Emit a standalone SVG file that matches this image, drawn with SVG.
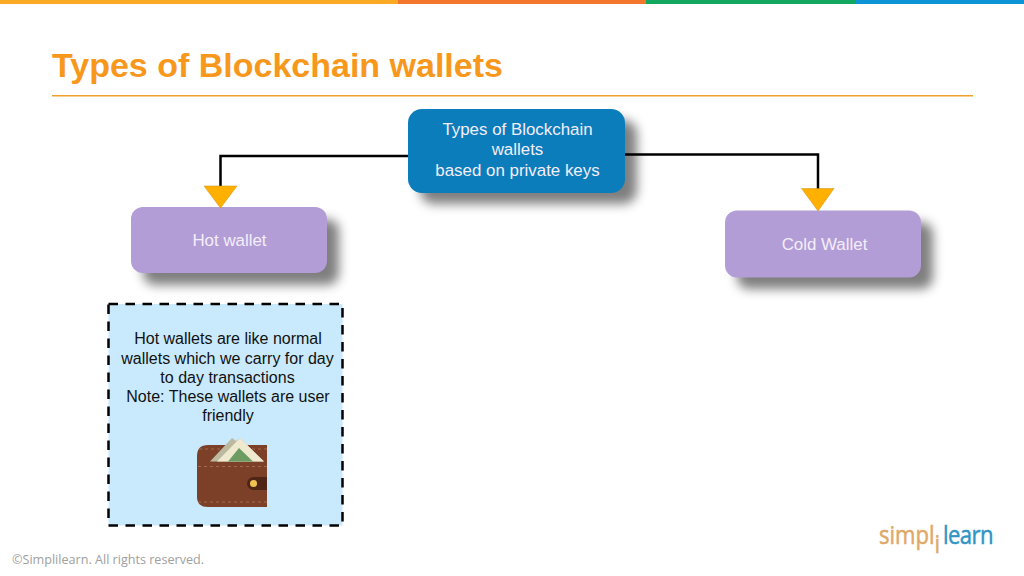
<svg xmlns="http://www.w3.org/2000/svg" width="1024" height="576" viewBox="0 0 1024 576">
<style>
text{font-family:"Liberation Sans",Arial,sans-serif}
.w{fill:#f4eefa;font-size:16.900px;text-anchor:middle}
.k{fill:#111;font-size:16px;text-anchor:middle}
.conn{fill:none;stroke:#000;stroke-width:2.5}
.tip{fill:#ffb000;stroke:#c98f10;stroke-width:.5}
.sh{fill:#000;opacity:.5;filter:url(#blur)}
.st{fill:none;stroke:#a26a4c;stroke-width:1.2;stroke-dasharray:3 3}
</style>
<defs><filter id="blur" x="-20%" y="-30%" width="140%" height="160%"><feGaussianBlur stdDeviation="5.500"/></filter></defs>
<rect width="1024" height="576" fill="#fff"/>
<g id="top-bar">
<rect x="0" y="0" width="398" height="4" fill="#fbaa26"/>
<rect x="398" y="0" width="248" height="4" fill="#f4762a"/>
<rect x="646" y="0" width="210" height="4" fill="#12a860"/>
<rect x="856" y="0" width="168" height="4" fill="#0d94d6"/>
</g>
<text id="title" x="52" y="77" font-size="34" font-weight="700" fill="#f7981d">Types of Blockchain wallets</text>
<rect id="title-rule" x="52" y="95" width="921" height="1.500" fill="#f2a02c"/>
<g id="connectors">
<path class="conn" d="M408 156H220.500V187"/>
<path class="conn" d="M625 154.500H818V189"/>
</g>
<g id="root">
<rect class="sh" x="420" y="120" width="217" height="84" rx="14"/>
<rect x="408" y="109" width="217" height="84" rx="14" fill="#0b7dba"/>
<text class="w" x="517.500" y="135">Types of Blockchain</text>
<text class="w" x="517.500" y="155">wallets</text>
<text class="w" x="517.500" y="176">based on private keys</text>
</g>
<g id="hot-wallet">
<rect class="sh" x="143" y="219" width="196" height="66" rx="12"/>
<rect x="131" y="207" width="196" height="66" rx="12" fill="#b29dd6"/>
<text class="w" x="229.500" y="245.500">Hot wallet</text>
<path class="tip" d="M204 186H237L220.500 208Z"/>
</g>
<g id="cold-wallet">
<rect class="sh" x="737" y="222" width="196" height="67" rx="12"/>
<rect x="725" y="210.500" width="196" height="67" rx="12" fill="#b29dd6"/>
<text class="w" x="824.500" y="249.500">Cold Wallet</text>
<path class="tip" d="M801.500 188.500H834L818 211Z"/>
</g>
<g id="hot-note">
<rect x="108.500" y="304" width="234" height="221.500" fill="#c9eafd" stroke="#000" stroke-width="2.500" stroke-dasharray="9.500 7.500"/>
<text class="k" x="228" y="344">Hot wallets are like normal</text>
<text class="k" x="227.500" y="363.500">wallets which we carry for day</text>
<text class="k" x="227.500" y="383">to day transactions</text>
<text class="k" x="228" y="402">Note: These wallets are user</text>
<text class="k" x="228" y="421">friendly</text>
</g>
<g id="wallet-icon">
<path d="M197 507V456Q197 445 208 445H267V507H208Q197 507 197 497Z" fill="#7c4028"/>
<path d="M210 461.500L232 438L236 441L240 438L264 461.500Z" fill="#bdb9a0"/>
<path d="M217 461.500L240 438L264 461.500Z" fill="#efe9cf"/>
<path d="M228 461.500L239 448L253 461.500Z" fill="#6d9c63"/>
<path class="st" d="M198 466.500H267"/>
<path class="st" d="M198 502H267"/>
<path class="st" d="M199 449H222M252 449H267"/>
<path d="M267 477H253.500A6.500 6.500 0 0 0 253.500 490H267Z" fill="#4f2615"/>
<circle cx="253.500" cy="483.500" r="3.500" fill="#f1c152"/>
</g>
<text id="copyright" x="12" y="564" font-size="12.600" fill="#a0a0a0" style="font-family:'Open Sans',sans-serif">©Simplilearn. All rights reserved.</text>
<g id="logo">
<text transform="translate(879 544) scale(.85 1)" font-size="26" stroke-width=".5" fill="#e0a868" stroke="#e0a868" style="font-family:'Open Sans',sans-serif"><tspan x="0" y="0">simpl</tspan><tspan x="65.300" y="9">i</tspan><tspan x="75.300" y="0" letter-spacing="-.7" fill="#2f95c4" stroke="#2f95c4">learn</tspan></text>
</g>
</svg>
